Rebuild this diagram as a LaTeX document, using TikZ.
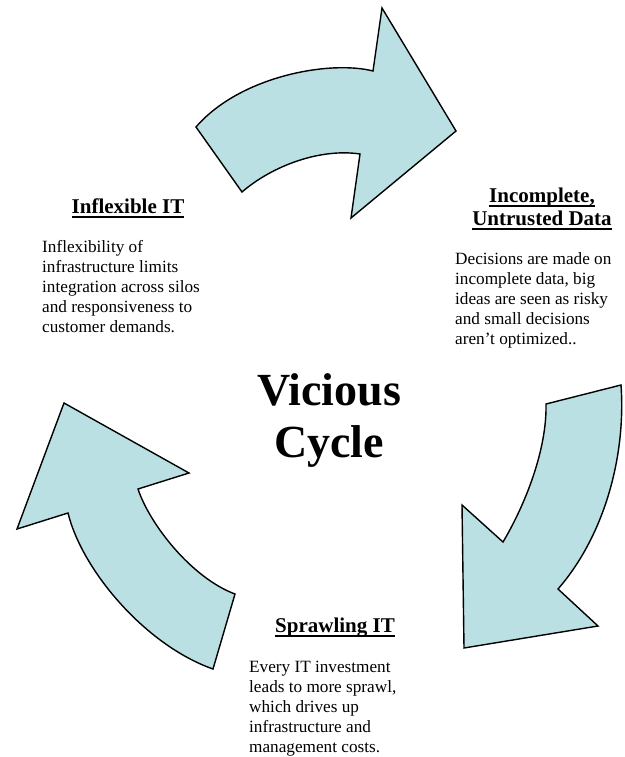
\documentclass[tikz,border=0pt]{standalone}
\usepackage{fontspec}
\setmainfont{Liberation Serif}
\definecolor{arrowfill}{HTML}{BBE0E3}
\newcommand{\hdul}[1]{\setbox0=\hbox{#1}\rlap{\rule[-4.5pt]{\wd0}{1.8pt}}\box0}
\begin{document}
\begin{tikzpicture}[x=1pt,y=-1pt,
  arrowshape/.style={fill=arrowfill, draw=black, line width=1.4pt, line join=miter},
  body/.style={font=\fontsize{17.2}{20}\selectfont, align=left, anchor=base west, inner sep=0pt},
  head/.style={font=\fontsize{21}{23}\selectfont\bfseries, align=center, anchor=base, inner sep=0pt},
  title/.style={font=\fontsize{46}{52}\selectfont\bfseries, align=center, anchor=base, inner sep=0pt}]
\useasboundingbox (0,0) rectangle (624,757);
% arrows
\draw[arrowshape] (196,127) -- (242,192) .. controls (272,166) and (320,148) .. (360,154)
  -- (351,218) -- (456,131) -- (382,8) -- (373,71) .. controls (330,60) and (240,76) .. cycle;
\draw[arrowshape] (546,404) -- (621,385) .. controls (626,455) and (605,535) .. (558,589)
  -- (598,626) -- (464,648) -- (462,505) -- (503,542) .. controls (525,505) and (547,450) .. cycle;
\draw[arrowshape] (213,669) -- (235,594) .. controls (192,578) and (150,525) .. (138,489)
  -- (189,473) -- (64,403) -- (17,529) -- (68,513) .. controls (82,570) and (145,645) .. cycle;
% texts (base anchor = baseline of the last line)
\node[head] (h1) at (128,213) {\hdul{Inflexible IT}};
\node[body] (b1) at (42,332) {Inflexibility of\\infrastructure limits\\integration across silos\\and responsiveness to\\customer demands.};
\node[head] (h2) at (542,225) {\hdul{Incomplete,}\\\hdul{Untrusted Data}};
\node[body] (b2) at (455,344) {Decisions are made on\\incomplete data, big\\ideas are seen as risky\\and small decisions\\aren’t optimized..};
\node[head] (h3) at (335,632) {\hdul{Sprawling IT}};
\node[body] (b3) at (249,752) {Every IT investment\\leads to more sprawl,\\which drives up\\infrastructure and\\management costs.};
\node[title] (t) at (329,457) {Vicious\\Cycle};
\end{tikzpicture}
\end{document}
